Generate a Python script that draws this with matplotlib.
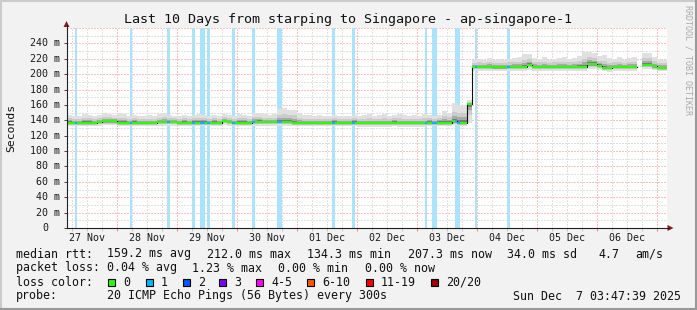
import matplotlib
matplotlib.use("Agg")
import matplotlib.pyplot as plt
import numpy as np
from matplotlib.patches import Rectangle, Polygon
from matplotlib.lines import Line2D

W, H = 697, 310
plt.rcParams['font.family'] = ['DejaVu Sans Mono', 'DejaVu Sans']

# time axis: hours after 27 Nov 00:00, graph ends Sun Dec 7 03:47:39
t_start = 3.794
t_end = t_start + 240

# 2-hour bins, first bin starts at hour 2
bin_hours = 2
first_bin_hour = 2

# median rtt per bin (ms)
median_ms = [
    137, 137, 137, 137, 137, 137, 137, 137.5, 138.5, 138.5,
    138.5, 137, 137, 137, 137, 137, 136.5, 136.5, 136.5, 138,
    138, 138, 138, 137, 137, 137, 137, 137, 137, 137,
    137, 137, 139, 138, 137, 137, 137, 137, 138, 138,
    138, 138, 138, 138, 138, 138, 137, 136.5, 136.5, 136.5,
    136.5, 136.5, 136.5, 136.5, 137, 137, 137, 137, 137, 136,
    136, 136, 136, 136, 136, 136, 137, 136, 136, 136,
    136, 136, 136, 137, 137, 137, 137, 137, 138.5, 137,
    137, 161, 209.3, 209.3, 209.3, 209.3, 208.7, 208.7, 208.7, 209.3,
    209.3, 209.3, 209.3, 212, 209.3, 209.3, 209.3, 209.3, 209.3, 209.3,
    209.3, 209.3, 209.3, 209.3, 209.3, 213, 213, 211, 208, 207.6,
    209.3, 209.3, 209.3, 209.3, 209.3, np.nan, 212.5, 212.5, 210, 208,
    208,
]

# top of the smoke (slowest ping) per bin (ms)
smoke_hi_ms = [
    146, 147, 145, 146, 148, 147, 146, 147, 149, 148,
    147, 149, 148, 146, 147, 146, 145, 147, 146, 148,
    149, 147, 146, 145, 147, 146, 147, 148, 147, 146,
    147, 146, 148, 147, 146, 148, 147, 146, 149, 150,
    148, 147, 148, 155, 156, 153, 154, 149, 147, 147,
    146, 147, 145, 146, 147, 146, 145, 146, 147, 146,
    147, 148, 146, 147, 148, 146, 147, 148, 147, 146,
    147, 146, 148, 147, 146, 147, 152, 150, 162, 160,
    160, 166, 219, 220, 219, 221, 219, 220, 219, 220,
    221, 222, 226, 226, 221, 220, 222, 219, 220, 221,
    222, 220, 221, 224, 229, 229, 228, 223, 225, 221,
    220, 222, 219, 221, 222, np.nan, 228, 228, 222, 220,
    219,
]

# bottom of the smoke (fastest ping) per bin (ms)
smoke_lo_ms = [
    132.5, 132.5, 132.5, 132.5, 132.5, 132.5, 132.5, 133, 133.5, 133.5,
    133.5, 132.5, 132.5, 132.5, 132.5, 132.5, 132, 132, 132, 133,
    133, 133, 133, 132.5, 132.5, 132.5, 132.5, 132.5, 132.5, 132.5,
    132.5, 132.5, 134, 133, 132.5, 132.5, 132.5, 132.5, 133, 133,
    133, 133, 133, 133, 133, 133, 132.5, 132, 132, 132,
    132, 132, 132, 132, 132.5, 132.5, 132.5, 132.5, 132.5, 131.5,
    131.5, 131.5, 131.5, 131.5, 131.5, 131.5, 132.5, 131.5, 131.5, 131.5,
    131.5, 131.5, 131.5, 132.5, 132.5, 132.5, 132.5, 132.5, 133.5, 132.5,
    132.5, 136, 204.5, 204.5, 204.5, 204.5, 204, 204, 204, 204.5,
    204.5, 204.5, 204.5, 206, 204.5, 204.5, 204.5, 204.5, 204.5, 204.5,
    204.5, 204.5, 204.5, 204.5, 204.5, 207, 207, 206, 203.5, 203,
    204.5, 204.5, 204.5, 204.5, 204.5, np.nan, 207, 207, 205, 203.5,
    203.5,
]

# hours (after 27 Nov 00:00) that had 1 lost ping out of 20
loss_hours = [7, 29, 44, 54, 57, 58, 60, 70, 78, 88, 89, 110, 118,
              147, 150, 151, 159, 160, 167, 180]

day_labels = ['27 Nov', '28 Nov', '29 Nov', '30 Nov', '01 Dec',
              '02 Dec', '03 Dec', '04 Dec', '05 Dec', '06 Dec']
y_ticks = [0, 20, 40, 60, 80, 100, 120, 140, 160, 180, 200, 220, 240]
y_tick_labels = ['0', '20 m', '40 m', '60 m', '80 m', '100 m', '120 m',
                 '140 m', '160 m', '180 m', '200 m', '220 m', '240 m']

loss_names = ['0', '1', '2', '3', '4-5', '6-10', '11-19', '20/20']
loss_colors = ['#26ff00', '#00b8ff', '#0059ff', '#7e00ff',
               '#ff00ff', '#ff5500', '#ff0000', '#a10000']

title = 'Last 10 Days from starping to Singapore - ap-singapore-1'
rtt_row = ['median rtt:', '159.2 ms avg', '212.0 ms max', '134.3 ms min',
           '207.3 ms now', '34.0 ms sd', '4.7', 'am/s']
loss_row = ['packet loss:', '0.04 % avg', '1.23 % max', '0.00 % min', '0.00 % now']
probe_text = '20 ICMP Echo Pings (56 Bytes) every 300s'
stamp = 'Sun Dec  7 03:47:39 2025'


def fx(x):
    return x / W


def fy(y):
    return 1 - y / H


fig = plt.figure(figsize=(W / 100, H / 100), dpi=100)
fig.patch.set_facecolor('#f2f2f2')

# plot area: x 66.5..666.5 px, y 28..228 px
ax = fig.add_axes([fx(66.5), fy(228), 600 / W, 200 / H])
ax.set_facecolor('white')
ax.set_xlim(t_start, t_end)
ax.set_ylim(0, 260)
for s in ax.spines.values():
    s.set_visible(False)

# grid
dots = (0, (1, 2))
for h in range(6, 244, 6):
    c = '#ff8080' if h % 24 == 0 else '#c4c4c4'
    ax.axvline(h, color=c, lw=0.72, ls=dots, zorder=1)
for v in range(10, 261, 10):
    c = '#ff8080' if v % 20 == 0 else '#c4c4c4'
    ax.axhline(v, color=c, lw=0.72, ls=dots, zorder=1)

# loss background bars
for h in loss_hours:
    ax.axvspan(h, h + 1, color='#aae4fc', lw=0, zorder=1.5)

# smoke
med = np.array(median_ms, dtype=float)
hi = np.array(smoke_hi_ms, dtype=float)
lo = np.array(smoke_lo_ms, dtype=float)
left = first_bin_hour + bin_hours * np.arange(len(med))
for frac, col in [(1.0, '#e0e0e0'), (0.55, '#cbcbcb'), (0.3, '#a8a8a8'), (0.15, '#7a7a7a')]:
    top = med + frac * (hi - med)
    bot = med - frac * (med - lo)
    ax.bar(left, top - bot, bottom=bot, width=bin_hours, align='edge',
           color=col, lw=0, zorder=2)

# median line: thin dark step + loss-coloured segments
edges = np.append(left, left[-1] + bin_hours)
ax.step(edges, np.append(med, med[-1]), where='post', color='#111111', lw=0.8, zorder=3)
hrs = np.arange(first_bin_hour, first_bin_hour + bin_hours * len(med))
vals = med[(hrs - first_bin_hour) // bin_hours]
cols = [loss_colors[1] if h in loss_hours else loss_colors[0] for h in hrs]
ax.hlines(vals, hrs, hrs + 1, colors=cols, lw=1.5, zorder=4)

# ticks
ax.set_xticks(range(24, 241, 24))
ax.set_xticks(range(6, 244, 6), minor=True)
ax.set_xticklabels([])
ax.tick_params(axis='x', which='major', length=2, width=0.7, color='#ff8080')
ax.tick_params(axis='x', which='minor', length=2, width=0.7, color='#c4c4c4')
ax.set_yticks(y_ticks)
ax.set_yticklabels([])
ax.tick_params(axis='y', length=2.2, width=0.7, color='#444444')

xt = ax.get_xaxis_transform()
for i, lab in enumerate(day_labels):
    ax.text(12 + 24 * i, -10 / 200, lab, transform=xt, ha='center', va='center',
            fontsize=7.2, color='#1a1a1a')
yt = ax.get_yaxis_transform()
for v, lab in zip(y_ticks, y_tick_labels):
    xr = 60.5 if lab != '0' else 48.5
    ax.text((xr - 66.5) / 600, v, lab, transform=yt, ha='right', va='center',
            fontsize=7.2, color='#1a1a1a')

# axis lines and arrows
fig.add_artist(Line2D([fx(66.5), fx(66.5)], [fy(228), fy(25)], color='#202020', lw=0.8))
fig.add_artist(Line2D([fx(66.5), fx(669)], [fy(228), fy(228)], color='#202020', lw=0.8))
fig.add_artist(Polygon([(fx(63.5), fy(27)), (fx(69.5), fy(27)), (fx(66.5), fy(21))],
                       closed=True, color='#8c1c1c', lw=0))
fig.add_artist(Polygon([(fx(667.5), fy(225)), (fx(667.5), fy(231)), (fx(673.5), fy(228))],
                       closed=True, color='#8c1c1c', lw=0))

# titles
fig.text(fx(348), fy(20), title, ha='center', va='center', fontsize=9.6, color='#111111')
fig.text(fx(11), fy(128), 'Seconds', rotation=90, ha='center', va='center',
         fontsize=8.2, color='#111111')
fig.text(fx(688), fy(60), 'RRDTOOL / TOBI OETIKER', rotation=270, ha='center',
         va='center', fontsize=6, color='#aaaaaa')

# legend rows
fs = 8.4
for lab, x in zip(rtt_row, [16, 107, 207, 307, 408, 507, 598, 635]):
    fig.text(fx(x), fy(254), lab, ha='left', va='center', fontsize=fs, color='#111111')
for lab, x in zip(loss_row, [16, 107, 192, 278, 365]):
    fig.text(fx(x), fy(268), lab, ha='left', va='center', fontsize=fs, color='#111111')
fig.text(fx(16), fy(282), 'loss color:', ha='left', va='center', fontsize=fs, color='#111111')
for lab, c, x in zip(loss_names, loss_colors, [108, 146, 183, 219, 256, 307, 366, 431]):
    fig.add_artist(Rectangle((fx(x), fy(286)), 7 / W, 7 / H, facecolor=c,
                             edgecolor='black', lw=0.8))
    fig.text(fx(x + 15), fy(282), lab, ha='left', va='center', fontsize=fs, color='#111111')
fig.text(fx(16), fy(296), 'probe:', ha='left', va='center', fontsize=fs, color='#111111')
fig.text(fx(107), fy(296), probe_text, ha='left', va='center', fontsize=fs, color='#111111')
fig.text(fx(681), fy(296), stamp, ha='right', va='center', fontsize=fs, color='#111111')

# image frame
fig.add_artist(Line2D([0, 1], [fy(0.5), fy(0.5)], color='#cbcbcb', lw=1.5))
fig.add_artist(Line2D([fx(0.5), fx(0.5)], [0, 1], color='#cbcbcb', lw=1.5))
fig.add_artist(Line2D([0, 1], [fy(309), fy(309)], color='#999999', lw=1.5))
fig.add_artist(Line2D([fx(696), fx(696)], [0, 1], color='#999999', lw=1.5))

fig.savefig('out.png', dpi=100, facecolor=fig.get_facecolor())
